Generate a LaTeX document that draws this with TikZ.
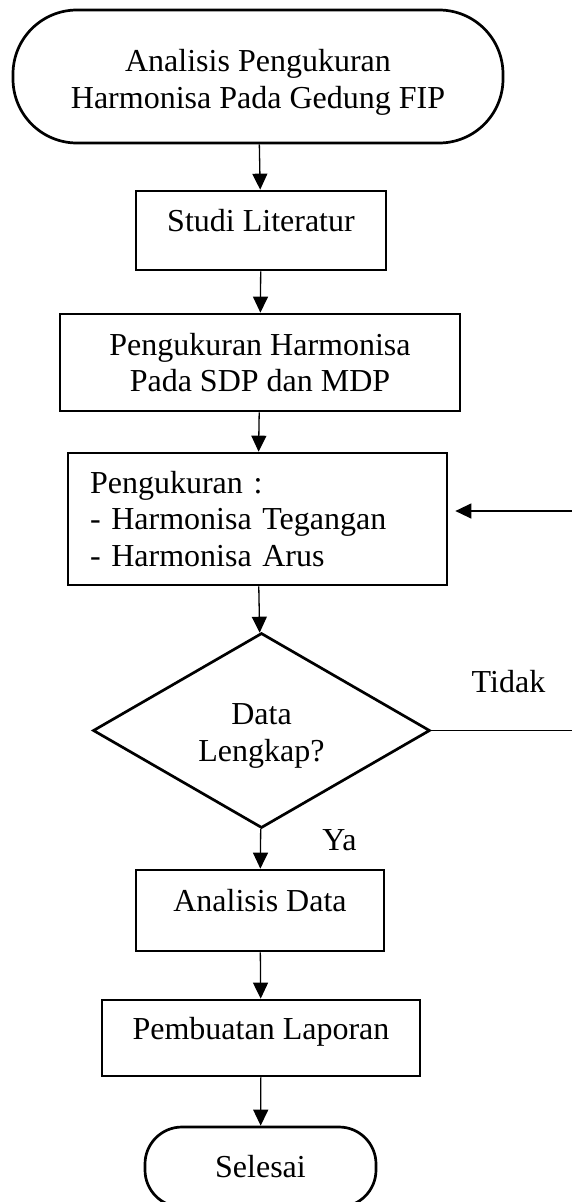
\documentclass[tikz,border=0pt]{standalone}
\usepackage{fontspec}
\setmainfont{Liberation Serif}
\usetikzlibrary{arrows.meta,shapes.geometric}
\begin{document}
\begin{tikzpicture}[x=1pt,y=-1pt,every node/.style={font=\fontsize{32}{36.5}\selectfont,inner sep=0pt},
  kotak/.style={draw,line width=2.7pt},
  satu/.style={kotak,text depth=20pt},
  arr/.style={line width=1.3pt,-{Triangle[length=16pt,width=15pt]}}]
  \useasboundingbox (0,0) rectangle (571,1202);
  \node[kotak,rounded corners=64pt,minimum width=490pt,minimum height=133pt,align=center] (mulai) at (258,76.5) {\rule{0pt}{34pt}Analisis Pengukuran\\Harmonisa Pada Gedung FIP};
  \node[satu,minimum width=250pt,minimum height=79pt] (lit) at (261,230.5) {Studi Literatur};
  \node[kotak,minimum width=400pt,minimum height=97pt,align=center] (sdp) at (260,362.5) {Pengukuran Harmonisa\\Pada SDP dan MDP};
  \node[kotak,minimum width=379pt,minimum height=132pt,text width=335pt,align=left] (ukur) at (257.5,519) {Pengukuran :\\- Harmonisa Tegangan\\- Harmonisa Arus};
  \node[kotak,diamond,aspect=1.73,minimum width=337pt,minimum height=195pt,align=center] (cek) at (261.5,730.5) {\rule{0pt}{32pt}Data\\Lengkap?};
  \node[satu,minimum width=248pt,minimum height=81pt] (anal) at (260,910.5) {Analisis Data};
  \node[satu,minimum width=318pt,minimum height=76pt] (lap) at (261,1038) {Pembuatan Laporan};
  \node[kotak,rounded corners=37pt,minimum width=231pt,minimum height=80pt] (akhir) at (260.5,1167) {Selesai};
  \node[anchor=base] (tdk) at (508.5,692) {Tidak};
  \node[anchor=base] (ya) at (339.5,850) {Ya};
  \draw[arr] (mulai) -- (lit); \draw[arr] (lit) -- (sdp); \draw[arr] (sdp) -- (ukur); \draw[arr] (ukur) -- (cek);
  \draw[arr] (cek) -- (anal); \draw[arr] (anal) -- (lap); \draw[arr] (lap) -- (akhir);
  % jalur kembali (Tidak)
  \coordinate (tR) at (576,730.5);
  \coordinate (tU) at (576,511);
  \draw[arr,shorten >=7pt] (cek.east) -- (tR) -- (tU) -- (tU -| ukur.east);
\end{tikzpicture}
\end{document}
